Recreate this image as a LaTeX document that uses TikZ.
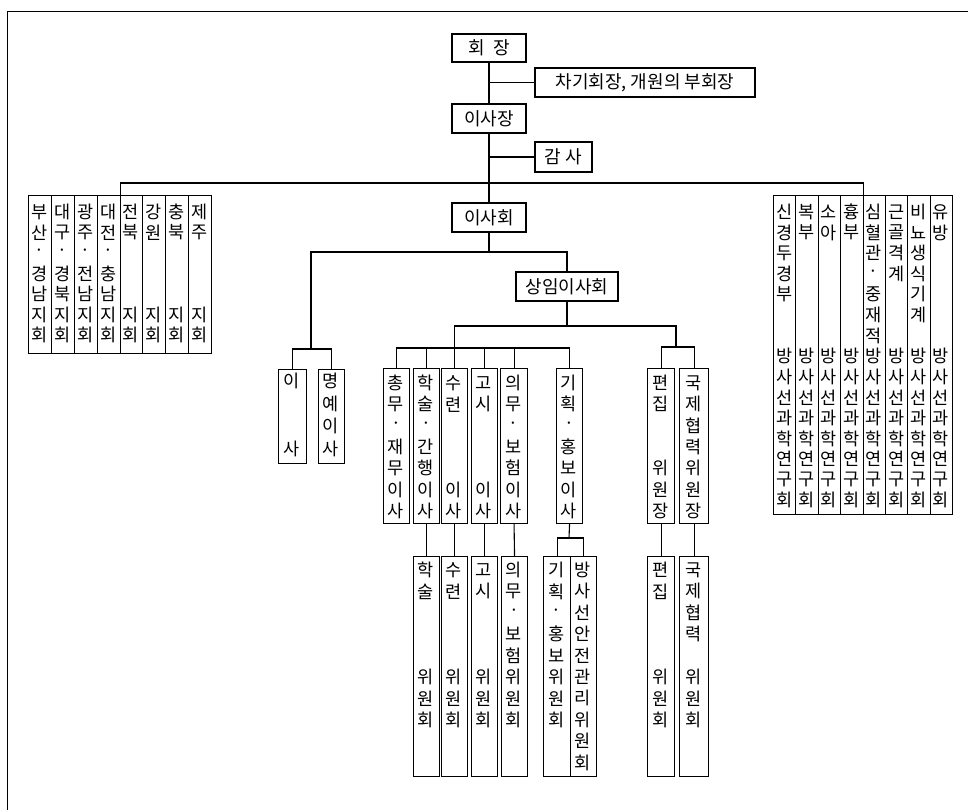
\documentclass[tikz,border=0pt]{standalone}
\usepackage{fontspec}
\setmainfont{Noto Sans CJK KR}
\newcommand\obox[5]{\node[bx,minimum width={#4pt-#2pt},minimum height={#5pt-#3pt}] (#1) at (#2,#3) {};}
\newcommand\vtxt[5]{\foreach \c [count=\i from 0] in {#5} {\node[ch] (#1-\i) at (#2,#3+\i*#4) {\c};}}
\newcommand\ocol[8]{\obox{#1}{#2}{#3}{#4}{#5}\pgfmathsetmacro\colcx{(#2+#4)/2}\vtxt{#1t}{\colcx}{#6}{#7}{#8}}
\begin{document}
\begin{tikzpicture}[x=1pt,y=-1pt,
  ln/.style={line width=1.1pt},
  bx/.style={draw,line width=1.1pt,inner sep=0pt,anchor=north west},
  tb/.style={draw,line width=1.1pt,inner sep=0pt,anchor=center,font=\fontsize{18}{18}\selectfont},
  ch/.style={inner sep=0pt,font=\fontsize{17.5}{18}\selectfont}]
\useasboundingbox (0,0) rectangle (968,810);
% frame
\draw[line width=0.8pt] (7,810) -- (7,11) -- (968,11);
% top chain
\node[tb,minimum width=74pt,minimum height=28pt] (hj) at (489,48) {회\ \ 장};
\node[tb,minimum width=220pt,minimum height=29pt] (cg) at (645,82.5) {차기회장, 개원의 부회장};
\node[tb,minimum width=74pt,minimum height=29pt] (ij) at (489,118.5) {이사장};
\node[tb,minimum width=57pt,minimum height=30pt] (gs) at (563.5,157) {감\ 사};
\node[tb,minimum width=74pt,minimum height=29pt] (ih) at (489,217.5) {이사회};
\node[tb,minimum width=102pt,minimum height=29pt] (sm) at (567,286.5) {상임이사회};
% left group (branches)
\ocol{lg1}{28}{195}{50.875}{353}{212}{20.5}{부,산,·,경,남,지,회}
\ocol{lg2}{50.875}{195}{73.75}{353}{212}{20.5}{대,구,·,경,북,지,회}
\ocol{lg3}{73.75}{195}{96.625}{353}{212}{20.5}{광,주,·,전,남,지,회}
\ocol{lg4}{96.625}{195}{119.5}{353}{212}{20.5}{대,전,·,충,남,지,회}
\ocol{lg5}{119.5}{195}{142.375}{353}{212}{20.5}{전,북,{},{},{},지,회}
\ocol{lg6}{142.375}{195}{165.25}{353}{212}{20.5}{강,원,{},{},{},지,회}
\ocol{lg7}{165.25}{195}{188.125}{353}{212}{20.5}{충,북,{},{},{},지,회}
\ocol{lg8}{188.125}{195}{211}{353}{212}{20.5}{제,주,{},{},{},지,회}
% right group (study groups)
\ocol{rg1}{773}{195}{795.375}{514}{212}{20.6}{신,경,두,경,부,{},{},방,사,선,과,학,연,구,회}
\ocol{rg2}{795.375}{195}{817.75}{514}{212}{20.6}{복,부,{},{},{},{},{},방,사,선,과,학,연,구,회}
\ocol{rg3}{817.75}{195}{840.125}{514}{212}{20.6}{소,아,{},{},{},{},{},방,사,선,과,학,연,구,회}
\ocol{rg4}{840.125}{195}{862.5}{514}{212}{20.6}{흉,부,{},{},{},{},{},방,사,선,과,학,연,구,회}
\ocol{rg5}{862.5}{195}{884.875}{514}{212}{20.6}{심,혈,관,·,중,재,적,방,사,선,과,학,연,구,회}
\ocol{rg6}{884.875}{195}{907.25}{514}{212}{20.6}{근,골,격,계,{},{},{},방,사,선,과,학,연,구,회}
\ocol{rg7}{907.25}{195}{929.625}{514}{212}{20.6}{비,뇨,생,식,기,계,{},방,사,선,과,학,연,구,회}
\ocol{rg8}{929.625}{195}{952}{514}{212}{20.6}{유,방,{},{},{},{},{},방,사,선,과,학,연,구,회}
% directors
\ocol{d1}{278}{369}{306}{463}{381}{22.5}{이,{},{},사}
\ocol{d2}{318}{369}{344}{463}{381}{22.5}{명,예,이,사}
% standing directors
\ocol{s1}{383}{368}{409}{523}{383}{21.3}{총,무,·,재,무,이,사}
\ocol{s2}{413}{368}{439}{523}{383}{21.3}{학,술,·,간,행,이,사}
\ocol{s3}{441}{368}{467}{523}{383}{21.3}{수,련,{},{},{},이,사}
\ocol{s4}{471}{368}{497}{523}{383}{21.3}{고,시,{},{},{},이,사}
\ocol{s5}{500}{368}{527}{523}{383}{21.3}{의,무,·,보,험,이,사}
\ocol{s6}{556}{368}{582}{523}{383}{21.3}{기,획,·,홍,보,이,사}
\ocol{e1}{647}{368}{674}{523}{383}{21.3}{편,집,{},{},위,원,장}
\ocol{e2}{679}{368}{708}{523}{383}{21.3}{국,제,협,력,위,원,장}
% committees
\ocol{w1}{413}{556}{439}{776}{570}{21.4}{학,술,{},{},{},위,원,회}
\ocol{w2}{441}{556}{467}{776}{570}{21.4}{수,련,{},{},{},위,원,회}
\ocol{w3}{471}{556}{497}{776}{570}{21.4}{고,시,{},{},{},위,원,회}
\ocol{w4}{501}{556}{527}{776}{570}{21.4}{의,무,·,보,험,위,원,회}
\ocol{w5}{543}{556}{570}{776}{570}{21.4}{기,획,·,홍,보,위,원,회}
\ocol{w6}{570}{556}{596}{776}{570}{21.4}{방,사,선,안,전,관,리,위,원,회}
\ocol{w7}{647}{556}{674}{776}{570}{21.4}{편,집,{},{},{},위,원,회}
\ocol{w8}{679}{556}{708}{776}{570}{21.4}{국,제,협,력,{},위,원,회}
% connectors
\draw[ln] (hj.south) -- (ij.north);
\draw[ln] (ij.south) -- (ih.north);
\draw[ln] (hj.south |- cg.west) -- (cg.west);
\draw[ln] (ij.south |- gs.west) -- (gs.west);
\coordinate (bus0) at (489,183);
\draw[ln] (lg4.north east) |- (bus0) -| (rg4.north east);
\coordinate (bus1) at (489,252);
\coordinate (bus2) at (311,349);
\draw[ln] (ih.south) -- (bus1);
\draw[ln] (bus2) |- (bus1) -| (sm.north);
\draw[ln] (d1.north) |- (bus2) -| (d2.north);
\coordinate (bus3) at (567,326);
\coordinate (bus4) at (454,348);
\coordinate (bus5) at (676,347);
\draw[ln] (sm.south) -- (bus3);
\draw[ln] (s3.north) |- (bus3) -| (bus5);
\draw[ln] (s1.north) |- (bus4) -| (s6.north);
\draw[ln] (s2.north) -- (s2.north |- bus4);
\draw[ln] (s4.north) -- (s4.north |- bus4);
\draw[ln] (s5.north) -- (s5.north |- bus4);
\draw[ln] (e1.north) |- (bus5) -| (e2.north);
\draw[ln] (s2.south) -- (w1.north);
\draw[ln] (s3.south) -- (w2.north);
\draw[ln] (s4.south) -- (w3.north);
\draw[ln] (s5.south) -- (w4.north);
\coordinate (bus6) at (569,538);
\draw[ln] (s6.south) -- (bus6);
\draw[ln] (w5.north) |- (bus6) -| (w6.north);
\draw[ln] (e1.south) -- (w7.north);
\draw[ln] (e2.south) -- (w8.north);
\end{tikzpicture}
\end{document}
